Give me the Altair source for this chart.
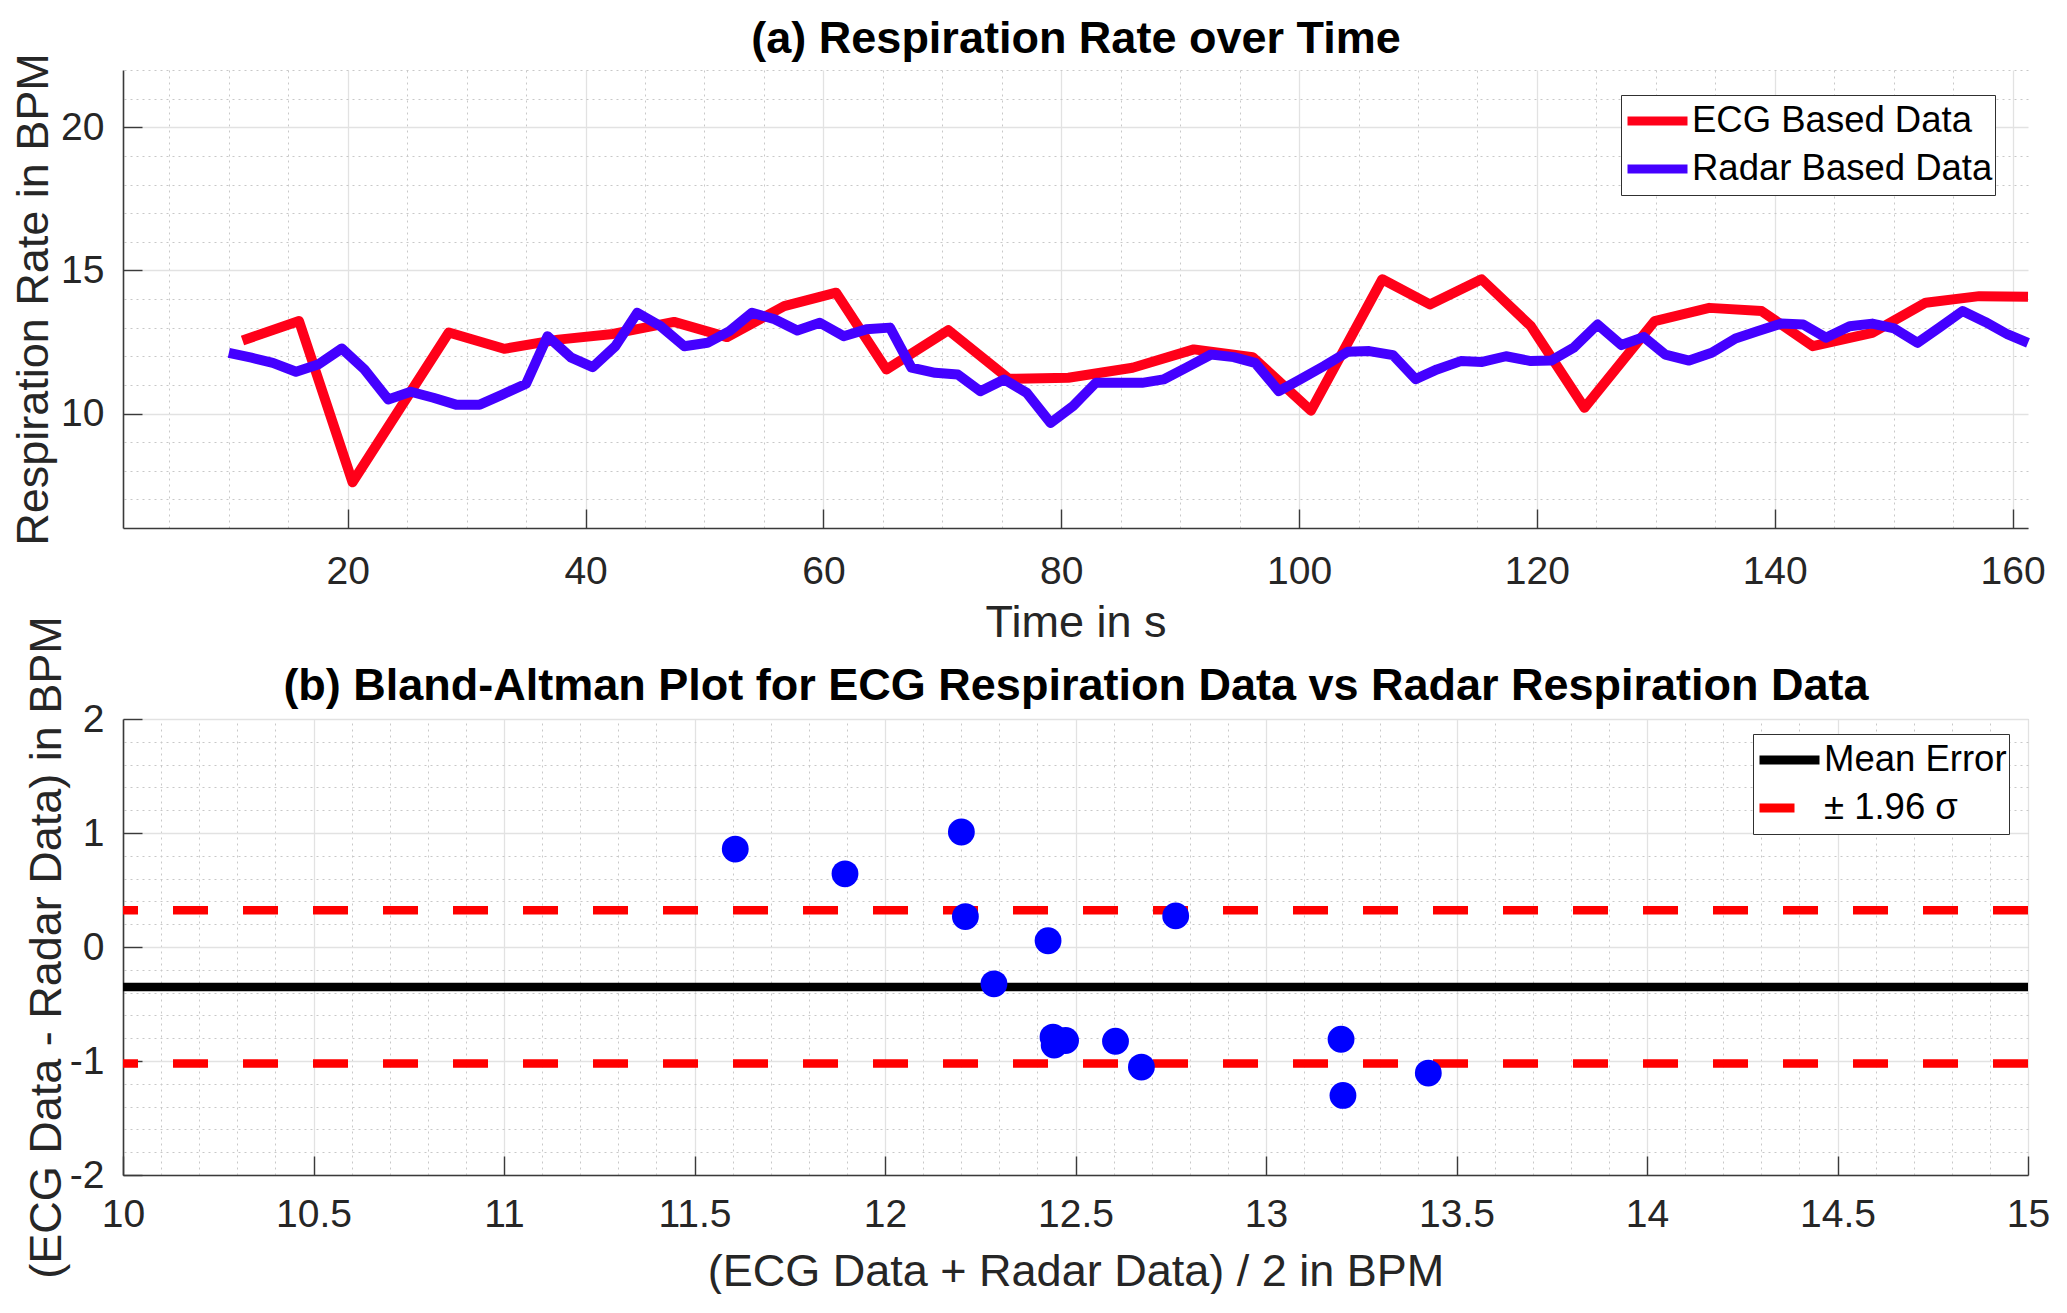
import altair as alt
import pandas as pd

FONT = "Liberation Sans"

# ---------------- Panel (a): respiration rate over time ----------------
ecg_t = [11.15, 15.9, 20.4, 28.5, 33.15, 37.7, 42.3, 47.44, 51.9, 56.7, 61.07, 65.3,
         70.5, 75.6, 80.6, 86.0, 91.15, 96.1, 101.0, 107.0, 111.0, 115.35, 119.5,
         124.0, 129.9, 134.5, 138.9, 143.2, 148.2, 152.7, 157.2, 161.3]
ecg_v = [12.55, 13.23, 7.6, 12.83, 12.26, 12.58, 12.78, 13.2, 12.67, 13.75, 14.22, 11.54,
         12.91, 11.21, 11.25, 11.6, 12.24, 11.97, 10.1, 14.69, 13.81, 14.69, 13.05,
         10.2, 13.23, 13.69, 13.58, 12.35, 12.82, 13.87, 14.1, 14.08]

radar_t = [10.0, 11.9, 13.7, 15.65, 17.5, 19.5, 21.4, 23.4, 25.3, 27.2, 29.1, 31.1, 33.0,
           35.0, 36.8, 38.8, 40.6, 42.5, 44.35, 46.3, 48.3, 50.25, 52.1, 54.0, 55.9,
           57.8, 59.7, 61.7, 63.6, 65.6, 67.4, 69.4, 71.3, 73.2, 75.2, 77.1, 79.1, 81.0,
           82.9, 84.8, 86.8, 88.6, 90.6, 92.6, 94.5, 96.3, 98.3, 100.1, 102.1, 104.1,
           105.9, 107.9, 109.8, 111.6, 113.6, 115.4, 117.4, 119.5, 121.2, 123.1, 125.1,
           127.1, 129.0, 130.8, 132.8, 134.7, 136.7, 138.6, 140.55, 142.4, 144.3, 146.3,
           148.2, 150.05, 152.0, 153.9, 155.8, 157.7, 159.6, 161.3]
radar_v = [12.12, 11.95, 11.77, 11.46, 11.71, 12.27, 11.54, 10.49, 10.76, 10.55, 10.31,
           10.31, 10.66, 11.04, 12.70, 11.95, 11.62, 12.35, 13.52, 13.05, 12.35, 12.47,
           12.88, 13.52, 13.29, 12.9, 13.17, 12.7, 12.94, 13.0, 11.6, 11.42, 11.36, 10.78,
           11.19, 10.72, 9.67, 10.26, 11.07, 11.07, 11.07, 11.19, 11.62, 12.06, 11.97,
           11.77, 10.78, 11.19, 11.66, 12.16, 12.18, 12.04, 11.2, 11.54, 11.83, 11.8,
           12.0, 11.83, 11.85, 12.3, 13.11, 12.39, 12.67, 12.06, 11.85, 12.12, 12.62,
           12.88, 13.14, 13.11, 12.65, 13.05, 13.14, 12.97, 12.47, 13.02, 13.58, 13.2,
           12.76, 12.47]

series_a = ["ECG Based Data", "Radar Based Data"]
colors_a = ["#ff0019", "#4400ff"]
title_a = "(a) Respiration Rate over Time"

xa_domain = [1.1, 161.3]
ya_domain = [6, 22]
xa_major = [20, 40, 60, 80, 100, 120, 140, 160]
xa_minor = [5, 10, 15, 25, 30, 35, 45, 50, 55, 65, 70, 75, 85, 90, 95, 105, 110, 115,
            125, 130, 135, 145, 150, 155]
ya_major = [10, 15, 20]
ya_minor = [6, 7, 8, 9, 11, 12, 13, 14, 16, 17, 18, 19, 21, 22]

# ---------------- Panel (b): Bland-Altman ----------------
ba_mean = [11.607, 11.895, 12.2005, 12.211, 12.428, 12.286, 12.441, 12.444, 12.474,
           12.605, 12.673, 12.763, 13.197, 13.202, 13.426]
ba_diff = [0.859, 0.642, 1.009, 0.267, 0.055, -0.323, -0.79, -0.86, -0.82,
           -0.827, -1.053, 0.273, -0.809, -1.302, -1.106]
ba_lines_label = ["Mean Error", "± 1.96 σ", "± 1.96 σ"]
ba_lines_value = [-0.35, 0.323, -1.023]
title_b = "(b) Bland-Altman Plot for ECG Respiration Data vs Radar Respiration Data"

xb_domain = [10, 15]
yb_domain = [-2, 2]
xb_major = [10, 10.5, 11, 11.5, 12, 12.5, 13, 13.5, 14, 14.5, 15]
xb_minor = [round(10 + 0.1 * i, 1) for i in range(51)]
yb_major = [-2, -1, 0, 1, 2]
yb_minor = [round(-2 + 0.2 * i, 1) for i in range(21)]

W = 1905
HA = 458
HB = 456

LABEL_FS = 39
TITLE_FS = 45
AXT_FS = 45
TEXT_COL = "#262626"
MAJOR_GRID = "#e2e2e2"
MINOR_GRID = "#c8c8c8"
AXIS_COL = "#3a3a3a"
TICK = 19


def main_axis(orient, values, title, tpad, lexpr, lpad=None):
    if lpad is None:
        lpad = 24 if orient == "bottom" else 19
    return alt.Axis(orient=orient, values=values, title=title, grid=True,
                    gridColor=MAJOR_GRID, gridWidth=1.3, ticks=False, tickSize=0,
                    domain=True, domainColor=AXIS_COL, domainWidth=1.6,
                    labelFont=FONT, labelFontSize=LABEL_FS, labelColor=TEXT_COL,
                    labelPadding=lpad,
                    labelExpr=lexpr, labelFlush=False, labelOverlap=False,
                    titleFont=FONT, titleFontSize=AXT_FS, titleFontWeight="normal",
                    titleColor=TEXT_COL, titlePadding=tpad)


def minor_axis(orient, values, title=None, tpad=0):
    if title is not None:
        kw = dict(title=title, titleFont=FONT, titleFontSize=TITLE_FS,
                  titleFontWeight="bold", titleColor="black", titlePadding=tpad,
                  minExtent=0, maxExtent=0)
    else:
        kw = dict(title=None)
    return alt.Axis(orient=orient, values=values, grid=True,
                    gridColor=MINOR_GRID, gridWidth=1, gridDash=[2, 4],
                    labels=False, ticks=False, domain=False, **kw)


def tick_axis(orient, values):
    return alt.Axis(orient=orient, values=values, title=None, grid=False,
                    labels=False, ticks=True, tickSize=TICK, tickWidth=1.4,
                    tickColor=AXIS_COL, domain=False, offset=-TICK)


def make_legend(lx, ly):
    return alt.Legend(title=None, orient="none", legendX=lx, legendY=ly,
                      direction="vertical", fillColor="white", strokeColor="#303030",
                      padding=2, rowPadding=0, clipHeight=48, labelOffset=0,
                      labelFont=FONT, labelFontSize=36.5, labelColor="black", labelLimit=0,
                      symbolType="stroke", symbolSize=3600, symbolStrokeWidth=9,
                      symbolOpacity=1)


num_expr = "'' + datum.value"
neg_expr = "datum.value < 0 ? '-' + (-datum.value) : '' + datum.value"

# ---- panel a
df_ecg = pd.DataFrame({"t": ecg_t, "v": ecg_v, "series": series_a[0]})
df_rad = pd.DataFrame({"t": radar_t, "v": radar_v, "series": series_a[1]})
df_all = pd.concat([df_ecg, df_rad], ignore_index=True)

xs_a = alt.Scale(domain=xa_domain, nice=False, zero=False)
ys_a = alt.Scale(domain=ya_domain, nice=False, zero=False)

color_a = alt.Color("series:N", scale=alt.Scale(domain=series_a, range=colors_a),
                    legend=make_legend(1498, 25))

grid_a = alt.Chart(df_all).mark_point(opacity=0).encode(
    x=alt.X("t:Q", scale=xs_a, axis=minor_axis("top", xa_minor, title_a, 8.5)),
    y=alt.Y("v:Q", scale=ys_a, axis=minor_axis("right", ya_minor)),
)
line_ecg = alt.Chart(df_ecg).mark_line(strokeWidth=10, strokeJoin="round", strokeCap="butt").encode(
    x=alt.X("t:Q", scale=xs_a, axis=main_axis("bottom", xa_major, "Time in s", 9.5, num_expr)),
    y=alt.Y("v:Q", scale=ys_a, axis=main_axis("left", ya_major, "Respiration Rate in BPM", 4, num_expr)),
    color=color_a,
    order="t:Q",
)
line_rad = alt.Chart(df_rad).mark_line(strokeWidth=10, strokeJoin="round", strokeCap="butt").encode(
    x=alt.X("t:Q", scale=xs_a, axis=None),
    y=alt.Y("v:Q", scale=ys_a, axis=None),
    color=color_a,
    order="t:Q",
)
ticks_a = alt.Chart(df_all).mark_point(opacity=0).encode(
    x=alt.X("t:Q", scale=xs_a, axis=tick_axis("bottom", xa_major)),
    y=alt.Y("v:Q", scale=ys_a, axis=tick_axis("left", ya_major)),
)

panel_a = alt.layer(grid_a, line_ecg, line_rad, ticks_a).resolve_axis(
    x="independent", y="independent"
).properties(width=W, height=HA)

# ---- panel b
df_pts = pd.DataFrame({"m": ba_mean, "d": ba_diff})
df_lines = pd.DataFrame({"label": ba_lines_label, "y": ba_lines_value})

xs_b = alt.Scale(domain=xb_domain, nice=False, zero=False)
ys_b = alt.Scale(domain=yb_domain, nice=False, zero=False)

label_dom = ["Mean Error", "± 1.96 σ"]
legend_b = make_legend(1630, 15)

rules_b = alt.Chart(df_lines).mark_rule(strokeWidth=8.5, strokeCap="butt").encode(
    y=alt.Y("y:Q", scale=ys_b,
            axis=main_axis("left", yb_major, "(ECG Data - Radar Data) in BPM", 0, neg_expr)),
    color=alt.Color("label:N", scale=alt.Scale(domain=label_dom, range=["#000000", "#ff0000"]),
                    legend=legend_b),
    strokeDash=alt.StrokeDash("label:N",
                              scale=alt.Scale(domain=label_dom, range=[[1, 0], [35, 35]]),
                              legend=legend_b),
)
grid_b = alt.Chart(df_pts).mark_point(opacity=0).encode(
    x=alt.X("m:Q", scale=xs_b, axis=minor_axis("top", xb_minor, title_b, 10.5)),
    y=alt.Y("d:Q", scale=ys_b, axis=minor_axis("right", yb_minor)),
)
pts_b = alt.Chart(df_pts).mark_circle(size=720, opacity=1, color="#0000ff").encode(
    x=alt.X("m:Q", scale=xs_b,
            axis=main_axis("bottom", xb_major, "(ECG Data + Radar Data) / 2 in BPM", 15,
                           num_expr, lpad=20)),
    y=alt.Y("d:Q", scale=ys_b, axis=None),
)
ticks_b = alt.Chart(df_pts).mark_point(opacity=0).encode(
    x=alt.X("m:Q", scale=xs_b, axis=tick_axis("bottom", xb_major)),
    y=alt.Y("d:Q", scale=ys_b, axis=tick_axis("left", yb_major)),
)

panel_b = alt.layer(grid_b, rules_b, pts_b, ticks_b).resolve_axis(
    x="independent", y="independent"
).resolve_legend(color="shared", strokeDash="shared").properties(width=W, height=HB)

chart = alt.vconcat(panel_a, panel_b, spacing=191, bounds="flush").resolve_scale(
    color="independent", strokeDash="independent"
).resolve_legend(color="independent", strokeDash="independent").properties(
    padding={"left": 3, "top": 8, "right": 0, "bottom": 0},
    background="white",
).configure_view(stroke=None)

chart.save("out.html", embed_options={"renderer": "svg", "actions": False})
